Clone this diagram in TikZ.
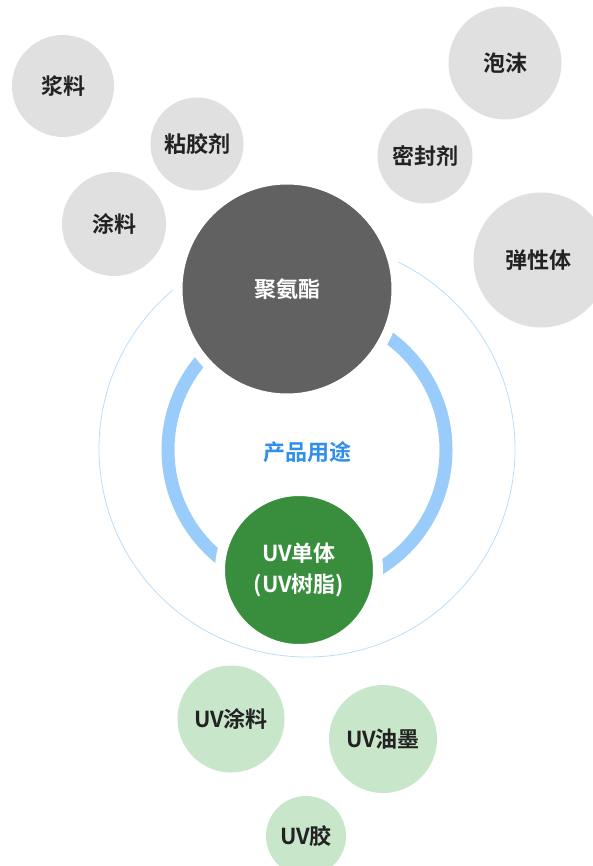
\documentclass[tikz,border=0pt]{standalone}
\usepackage{fontspec}
\setmainfont{Noto Sans CJK SC}[BoldFont={* Bold}]
\definecolor{lgray}{HTML}{E0E0E0}
\definecolor{dgray}{HTML}{616161}
\definecolor{dgreen}{HTML}{388E3C}
\definecolor{lgreen}{HTML}{C8E6C9}
\definecolor{ringblue}{HTML}{99CCFA}
\definecolor{thinblue}{HTML}{BBDDFA}
\definecolor{txtblue}{HTML}{2F8FEA}
\definecolor{txtdark}{HTML}{222222}
\begin{document}
\begin{tikzpicture}[x=1pt,y=-1pt,
  bubble/.style={circle, inner sep=0pt, font=\fontsize{22}{26}\selectfont\bfseries, text=txtdark},
  graybub/.style={bubble, fill=lgray},
  greenbub/.style={bubble, fill=lgreen},
  bigbub/.style={bubble, draw=white, line width=10pt, text=white}]
\useasboundingbox (0,0) rectangle (593,866);
\clip (0,0) rectangle (593,866);
\node[circle, draw=thinblue, line width=0.8pt, minimum size=416pt, inner sep=0pt] (outer) at (307,449) {};
\node[circle, draw=ringblue, line width=13pt, minimum size=278pt, inner sep=0pt] (ring) at (307,450) {};
\node[bigbub, fill=dgray, minimum size=219pt] (pu) at (287,289) {};
\node[font=\fontsize{22}{26}\selectfont\bfseries, text=white] at (287,289) {聚氨酯};
\node[bigbub, fill=dgreen, minimum size=158pt, align=center, font=\fontsize{22}{31}\selectfont\bfseries] (uv) at (299,570) {UV单体\\(UV树脂)};
\node[font=\fontsize{22}{26}\selectfont\bfseries, text=txtblue] (use) at (307,452) {产品用途};
\node[graybub, minimum size=102pt] (a1) at (63,86) {浆料};
\node[graybub, minimum size=93pt] (a2) at (197,144) {粘胶剂};
\node[graybub, minimum size=104pt] (a3) at (114,224) {涂料};
\node[graybub, minimum size=113pt] (a4) at (505,63) {泡沫};
\node[graybub, minimum size=95pt] (a5) at (425,156) {密封剂};
\node[graybub, minimum size=135pt, text width=120pt, align=center] (a6) at (541,260) {\hspace*{-6pt}弹性体};
\node[greenbub, minimum size=107pt] (b1) at (231,719) {UV涂料};
\node[greenbub, minimum size=108pt] (b2) at (383,739) {UV油墨};
\node[greenbub, minimum size=80pt] (b3) at (306,836) {UV胶};
\end{tikzpicture}
\end{document}
